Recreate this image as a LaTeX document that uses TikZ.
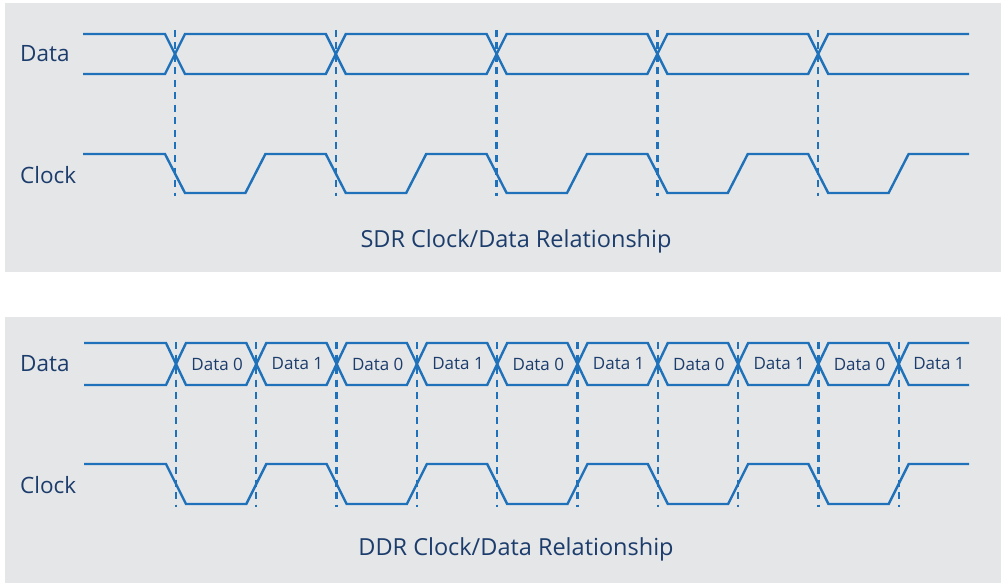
\documentclass[tikz,border=0pt]{standalone}
\usepackage{fontspec}
\setmainfont{Open Sans}
\definecolor{sigBlue}{HTML}{1F72B9}
\definecolor{txtBlue}{HTML}{1C3D6C}
\definecolor{panelGray}{HTML}{E5E6E8}
\tikzset{
  panel/.style={fill=panelGray},
  sig/.style={draw=sigBlue, line width=2.4pt},
  edgemark/.style={draw=sigBlue, line width=2.3pt, dash pattern=on 7pt off 5.5pt},
  lbl/.style={text=txtBlue, font=\fontsize{22.5}{26}\selectfont, anchor=west, inner sep=0pt},
  titletext/.style={text=txtBlue, font=\fontsize{23.5}{28}\selectfont, anchor=base, inner sep=0pt},
  cell/.style={text=txtBlue, font=\fontsize{17}{20}\selectfont, inner sep=0pt}
}

\begin{document}
\begin{tikzpicture}[x=1pt,y=-1pt]
\useasboundingbox (0,0) rectangle (1001,583);
\fill[panel] (5,3) rectangle (1001,272);
\fill[panel] (5,317) rectangle (1001,583);

% SDR
\node[lbl] (sdrData) at (20,54) {Data};
\node[lbl] (sdrClock) at (20,175) {Clock};
\node[titletext] (sdrTitle) at (516,247) {SDR Clock/Data Relationship};

\draw[sig] (83,34) -- (165,34) -- (175,54) -- (165,74) -- (83,74);
\foreach \a/\b in {175/335.8,335.8/496.6,496.6/657.4,657.4/818.2}
  \draw[sig] (\a,54) -- (\a+10,34) -- (\b-10,34) -- (\b,54) -- (\b-10,74) -- (\a+10,74) -- cycle;
\draw[sig] (969,34) -- (828.2,34) -- (818.2,54) -- (828.2,74) -- (969,74);

\draw[sig] (83,154) \foreach \c in {175,335.8,496.6,657.4,818.2} {
  -- (\c-10,154) -- (\c+10,193) -- (\c+70.4,193) -- (\c+90.4,154) } -- (969,154);

\foreach \c in {175,335.8,496.6,657.4,818.2}
  \draw[edgemark] (\c,30) -- (\c,196);

% DDR
\node[lbl] (ddrData) at (20,364) {Data};
\node[lbl] (ddrClock) at (20,485) {Clock};
\node[titletext] (ddrTitle) at (516,555) {DDR Clock/Data Relationship};

\draw[sig] (84,343) -- (166,343) -- (176,364) -- (166,385) -- (84,385);
\foreach \k in {0,...,8} {
  \pgfmathsetmacro{\a}{176+80.3*\k}
  \pgfmathsetmacro{\b}{\a+80.3}
  \pgfmathtruncatemacro{\bit}{mod(\k,2)}
  \draw[sig] (\a,364) -- (\a+10,343) -- (\b-10,343) -- (\b,364) -- (\b-10,385) -- (\a+10,385) -- cycle;
  \node[cell] (cell\k) at ({(\a+\b)/2+1},364) {Data \bit};
}
\draw[sig] (969,343) -- (908.7,343) -- (898.7,364) -- (908.7,385) -- (969,385);
\node[cell] (cell9) at (939,364) {Data 1};

\draw[sig] (84,464) \foreach \c in {176,336.6,497.2,657.8,818.4} {
  -- (\c-10,464) -- (\c+10,504) -- (\c+70.3,504) -- (\c+90.3,464) } -- (969,464);

\foreach \k in {0,...,9}
  \draw[edgemark] ({176+80.3*\k},342) -- ({176+80.3*\k},507);
\end{tikzpicture}
\end{document}
